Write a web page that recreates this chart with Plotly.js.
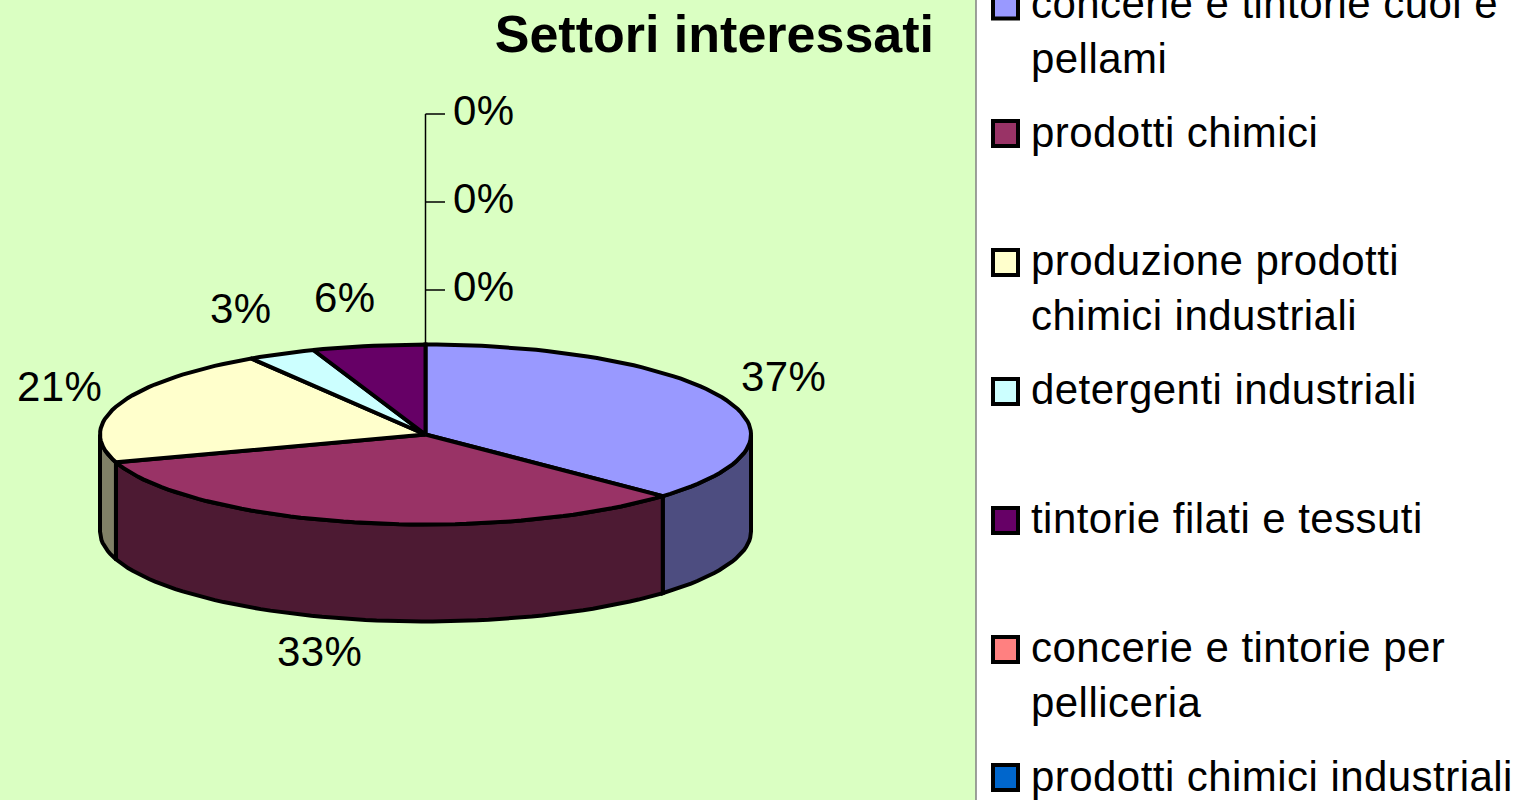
<!DOCTYPE html>
<html>
<head>
<meta charset="utf-8">
<script src="https://cdn.plot.ly/plotly-3.0.1.min.js"></script>
<style>html,body{margin:0;padding:0;background:#fff;overflow:hidden}#c{width:1526px;height:800px}
.annotation-text{letter-spacing:0.45px}</style>
</head>
<body>
<div id="c"></div>
<script>
// Data
const titleText = "Settori interessati";
const categories = ["concerie e tintorie cuoi e<br>pellami", "prodotti chimici", "produzione prodotti<br>chimici industriali",
  "detergenti industriali", "tintorie filati e tessuti", "concerie e tintorie per<br>pelliceria", "prodotti chimici industriali"];
const colors = ["#9999FF", "#993366", "#FFFFCC", "#CCFFFF", "#660066", "#FF8080", "#0066CC"];
const wallColors = ["#4D4D80", "#4D1A33", "#808066"];
const values = [37, 33, 21, 3.4, 5.6];
const zeroLabelY = [114, 202, 290];
const legendY = [6, 133.5, 262.5, 391.5, 520.5, 649.5, 777.5];
const legendTextY = [31, 132, 288, 389, 518, 675, 776];
const pieLabelX = [783, 319, 59, 241, 345];
const pieLabelY = [376, 651, 386, 308, 297];

// Pie geometry (projection onto the page)
const cx = 425.5, cy = 434.5, rx = 325.5, ry = 90, depth = 97;
const px = a => cx + rx * Math.sin(a * Math.PI / 180);
const py = (a, d) => cy - ry * Math.cos(a * Math.PI / 180) + (d || 0);
function arc(a1, a2, d) {
  const xs = [], ys = [], n = Math.max(2, Math.ceil(Math.abs(a2 - a1) / 2));
  for (let i = 0; i <= n; i++) { const a = a1 + (a2 - a1) * i / n; xs.push(px(a)); ys.push(py(a, d)); }
  return [xs, ys];
}
const total = values.reduce((s, v) => s + v, 0);
let acc = 0;
const angles = values.map(v => { const a = [acc, acc + v]; acc += v; return a.map(f => f / total * 360); });

const LINE = {color: "#000", width: 4};
const traces = [];

// Leader lines of the zero-value slices
const leadX = [], leadY = [];
zeroLabelY.forEach(y => { leadX.push(cx, 445, null); leadY.push(y, y, null); });
traces.push({x: [cx, cx, null].concat(leadX), y: [py(0), zeroLabelY[0], null].concat(leadY), mode: "lines",
  line: {color: "#000", width: 1.5}, hoverinfo: "skip", showlegend: false});

// Side walls (only the front half of the cylinder is visible)
angles.forEach((a, i) => {
  const s = Math.max(a[0], 90), e = Math.min(a[1], 270);
  if (e <= s) return;
  const t = arc(s, e, 0), b = arc(e, s, depth);
  traces.push({x: t[0].concat(b[0], [t[0][0]]), y: t[1].concat(b[1], [t[1][0]]), mode: "lines", fill: "toself",
    fillcolor: wallColors[i], line: LINE, hoverinfo: "skip", showlegend: false});
});

// Top faces
angles.forEach((a, i) => {
  const t = arc(a[0], a[1], 0);
  traces.push({x: [cx].concat(t[0], [cx]), y: [cy].concat(t[1], [cy]), mode: "lines", fill: "toself",
    fillcolor: colors[i], line: LINE, hoverinfo: "skip", showlegend: false});
});

// Legend swatches
traces.push({x: categories.map(() => 1005.5), y: legendY, mode: "markers",
  marker: {symbol: "square", size: 25, color: colors, line: {color: "#000", width: 4}},
  hoverinfo: "skip", showlegend: false});

const font = {family: "Liberation Sans, Arial, sans-serif", size: 42, color: "#000"};
const ann = [];
values.forEach((v, i) => ann.push({x: pieLabelX[i], y: pieLabelY[i], text: Math.round(v) + "%", showarrow: false,
  xanchor: "center", yanchor: "middle", font}));
zeroLabelY.forEach(y => ann.push({x: 451, y: y - 4, text: "0%", showarrow: false, xanchor: "left", yanchor: "middle", font}));
categories.forEach((c, i) => ann.push({x: 1029, y: legendTextY[i], text: c, showarrow: false, xanchor: "left", yanchor: "middle",
  align: "left", font}));

const layout = {
  width: 1526, height: 800,
  margin: {l: 0, r: 0, t: 0, b: 0},
  paper_bgcolor: "#DAFFC2", plot_bgcolor: "rgba(0,0,0,0)",
  showlegend: false,
  title: {text: "<b>" + titleText + "</b>", x: 934 / 1526, xanchor: "right", xref: "paper", y: 1 - 34 / 800, yanchor: "middle", yref: "container",
    font: {family: "Liberation Sans, Arial, sans-serif", size: 52, color: "#000"}},
  xaxis: {range: [0, 1526], visible: false, fixedrange: true},
  yaxis: {range: [800, 0], visible: false, fixedrange: true},
  shapes: [{type: "rect", layer: "below", xref: "x", yref: "y", x0: 976, x1: 1526, y0: 0, y1: 800, fillcolor: "#FFFFFF",
    line: {width: 0}},
    {type: "line", layer: "below", xref: "x", yref: "y", x0: 976, x1: 976, y0: 0, y1: 800, line: {color: "#808080", width: 1.5}}],
  annotations: ann
};
Plotly.newPlot("c", traces, layout, {displayModeBar: false, staticPlot: true});
</script>
</body>
</html>
